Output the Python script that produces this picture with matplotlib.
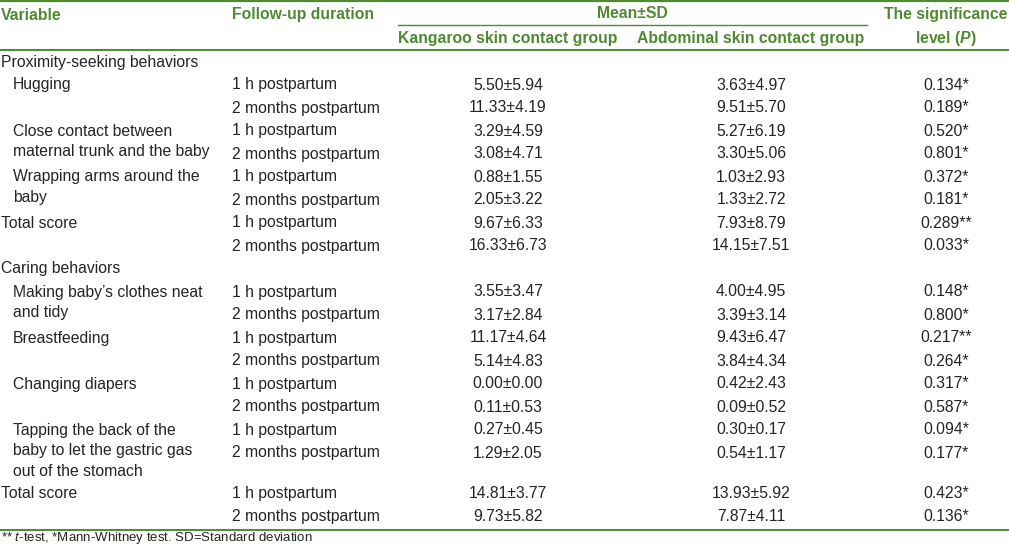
"""Mean±SD table of maternal behaviors, kangaroo vs abdominal skin contact."""
import matplotlib.pyplot as plt

plt.rcParams["font.family"] = ["Liberation Sans", "DejaVu Sans"]
plt.rcParams["mathtext.fontset"] = "custom"
plt.rcParams["mathtext.rm"] = "Liberation Sans"
plt.rcParams["mathtext.it"] = "Liberation Sans:italic"
plt.rcParams["mathtext.bf"] = "Liberation Sans:bold"
plt.rcParams["mathtext.bfit"] = "Liberation Sans:italic:bold"

GREEN = "#4f8a32"
TEXT = "#262324"

# row label, indented?, follow-up, kangaroo group, abdominal group, P
labels = [
    "Proximity-seeking behaviors", "Hugging", "",
    "Close contact between\nmaternal trunk and the baby", "",
    "Wrapping arms around the\nbaby", "", "Total score", "",
    "Caring behaviors", "Making baby\u2019s clothes neat\nand tidy", "",
    "Breastfeeding", "", "Changing diapers", "",
    "Tapping the back of the\nbaby to let the gastric gas\nout of the stomach", "",
    "Total score", "",
]
indent = [0, 1, 1, 1, 1, 1, 1, 0, 0, 0, 1, 1, 1, 1, 1, 1, 1, 1, 0, 0]
follow_up = [""] + ["1 h postpartum", "2 months postpartum"] * 4 + [""] + \
    ["1 h postpartum", "2 months postpartum"] * 5
kangaroo = [
    "", "5.50±5.94", "11.33±4.19", "3.29±4.59", "3.08±4.71", "0.88±1.55",
    "2.05±3.22", "9.67±6.33", "16.33±6.73", "", "3.55±3.47", "3.17±2.84",
    "11.17±4.64", "5.14±4.83", "0.00±0.00", "0.11±0.53", "0.27±0.45",
    "1.29±2.05", "14.81±3.77", "9.73±5.82",
]
abdominal = [
    "", "3.63±4.97", "9.51±5.70", "5.27±6.19", "3.30±5.06", "1.03±2.93",
    "1.33±2.72", "7.93±8.79", "14.15±7.51", "", "4.00±4.95", "3.39±3.14",
    "9.43±6.47", "3.84±4.34", "0.42±2.43", "0.09±0.52", "0.30±0.17",
    "0.54±1.17", "13.93±5.92", "7.87±4.11",
]
p_values = [
    "", "0.134*", "0.189*", "0.520*", "0.801*", "0.372*", "0.181*",
    "0.289**", "0.033*", "", "0.148*", "0.800*", "0.217**", "0.264*",
    "0.317*", "0.587*", "0.094*", "0.177*", "0.423*", "0.136*",
]

W, H = 1009, 545
fig = plt.figure(figsize=(W / 100, H / 100), dpi=100)
ax = fig.add_axes([0, 0, 1, 1])
ax.set_xlim(0, W)
ax.set_ylim(H, 0)
ax.axis("off")

fs = 11.3
x_var, x_ind, x_fu = 1, 13, 232
x_kan, x_abd, x_p = 508, 751, 946

# header
hd = dict(color=GREEN, fontsize=fs, fontweight="bold", va="center")
ax.text(x_var, 15, "Variable", ha="left", **hd)
ax.text(x_fu, 15, "Follow-up duration", ha="left", **hd)
ax.text(632, 14, "Mean±SD", ha="center", **hd)
ax.text(x_p, 15, "The significance", ha="center", **hd)
ax.text(x_p, 39, r"level ($\mathbfit{P}$)", ha="center", **hd)
ax.text(x_kan, 39, "Kangaroo skin contact group", ha="center", **hd)
ax.text(x_abd, 39, "Abdominal skin contact group", ha="center", **hd)
ax.plot([0, W], [1, 1], color=GREEN, lw=1.6)
ax.plot([398, 867], [25, 25], color=GREEN, lw=1.0)
ax.plot([0, W], [49.5, 49.5], color=GREEN, lw=1.4)

# body
bd = dict(color=TEXT, fontsize=fs, va="center")
y = 62
step, wrap = 23, 20.5
prev_extra = 0
for i in range(len(labels)):
    lines = labels[i].split("\n") if labels[i] else []
    x0 = x_ind if indent[i] else x_var
    for k, line in enumerate(lines):
        ax.text(x0, y + wrap * k, line, ha="left", **bd)
    ax.text(x_fu, y, follow_up[i], ha="left", **bd)
    ax.text(x_kan, y, kangaroo[i], ha="center", **bd)
    ax.text(x_abd, y, abdominal[i], ha="center", **bd)
    ax.text(x_p, y, p_values[i], ha="center", **bd)
    if len(lines) > 2:
        prev_extra = (len(lines) - 2) * wrap - 3
    y += step
    if labels[i] == "" and prev_extra:
        y += prev_extra
        prev_extra = 0

ax.plot([0, W], [530, 530], color=GREEN, lw=1.4)
ax.text(x_var, 541.5, r"** $\mathit{t}$-test, *Mann-Whitney test. SD=Standard deviation",
        color=TEXT, fontsize=9.5, ha="left", va="baseline")

fig.savefig("out.png", dpi=100)
